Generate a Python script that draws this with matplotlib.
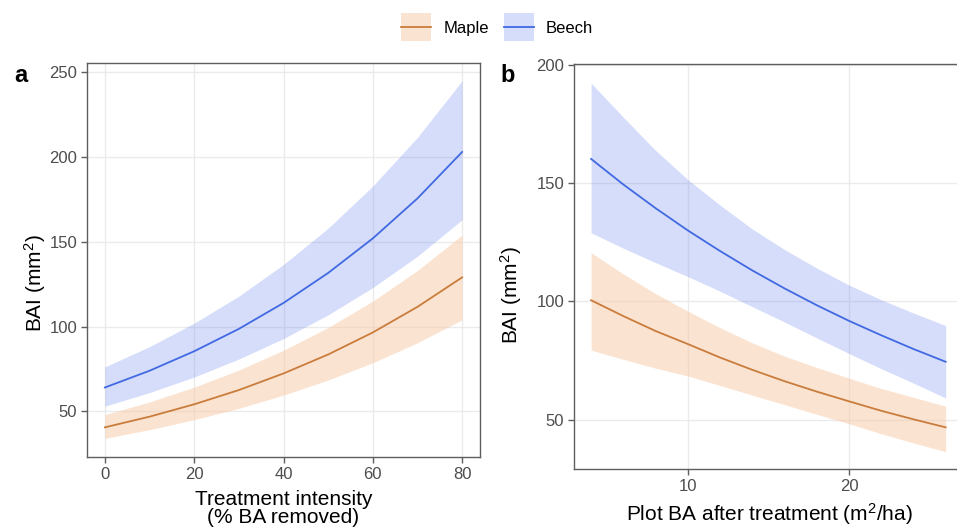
import matplotlib
matplotlib.use("Agg")
import matplotlib.pyplot as plt
from matplotlib.patches import Patch, Rectangle
from matplotlib.lines import Line2D
from matplotlib.legend_handler import HandlerBase

plt.rcParams['font.family'] = ['Liberation Sans', 'DejaVu Sans']
plt.rcParams['mathtext.fontset'] = 'custom'
plt.rcParams['mathtext.rm'] = 'Liberation Sans'
plt.rcParams['mathtext.it'] = 'Liberation Sans:italic'
plt.rcParams['mathtext.bf'] = 'Liberation Sans:bold'

# ---------------- data ----------------
species = ["Maple", "Beech"]

# Panel a: treatment intensity (% BA removed)
intensity = [0, 10, 20, 30, 40, 50, 60, 70, 80]
maple_a_mean = [40.5, 46.8, 54.1, 62.5, 72.3, 83.5, 96.5, 111.6, 129.0]
maple_a_low = [34.0, 39.1, 45.0, 51.7, 59.5, 68.4, 78.6, 90.4, 104.0]
maple_a_high = [48.0, 55.5, 64.2, 74.3, 86.0, 99.4, 115.0, 133.1, 154.0]
beech_a_mean = [64.0, 73.9, 85.4, 98.6, 113.9, 131.6, 152.0, 175.6, 203.0]
beech_a_low = [53.0, 61.0, 70.2, 80.8, 92.9, 106.9, 123.0, 141.5, 163.0]
beech_a_high = [76.2, 88.1, 102.0, 117.9, 136.6, 158.0, 182.9, 211.6, 245.0]

# Panel b: plot BA after treatment (m2/ha)
plot_ba = [4, 6, 8, 10, 12, 14, 16, 18, 20, 22, 24, 26]
maple_b_mean = [100.5, 93.8, 87.5, 82.0, 76.3, 71.1, 66.3, 61.9, 57.8, 53.8, 50.2, 46.8]
maple_b_low = [79.4, 75.5, 71.8, 68.5, 64.5, 60.4, 56.4, 52.3, 48.3, 44.1, 40.2, 36.5]
maple_b_high = [120.6, 111.6, 103.3, 95.9, 88.9, 82.5, 76.9, 72.1, 67.6, 63.2, 59.5, 55.7]
beech_b_mean = [160.2, 149.4, 139.4, 130.0, 121.3, 113.1, 105.5, 98.4, 91.8, 85.7, 79.9, 74.5]
beech_b_low = [129.0, 122.5, 116.4, 110.5, 104.3, 97.8, 91.3, 84.6, 78.0, 71.6, 65.5, 59.2]
beech_b_high = [192.2, 177.8, 163.8, 151.5, 140.7, 130.6, 121.9, 114.1, 106.9, 100.7, 95.1, 89.8]

a_xticks = [0, 20, 40, 60, 80]
a_yticks = [50, 100, 150, 200, 250]
b_xticks = [10, 20]
b_yticks = [50, 100, 150, 200]

# ---------------- style ----------------
line_col = {"Maple": "#C97C3C", "Beech": "#4169E1"}
fill_col = {"Maple": "#F9C9A4", "Beech": "#5A78F0"}
fill_alpha = {"Maple": 0.5, "Beech": 0.25}
frame_col = "#5E5E5E"
grid_col = "#EBEBEB"
tick_lab_col = "#4D4D4D"

fig = plt.figure(figsize=(9.57, 5.27), dpi=100)
ax_a = fig.add_axes([87/957, 1-457/527, 393/957, 394/527])
ax_b = fig.add_axes([574/957, 1-469/527, 391/957, 405/527])


def style(ax):
    ax.set_facecolor("white")
    for s in ax.spines.values():
        s.set_color(frame_col)
        s.set_linewidth(1.0)
    ax.grid(True, color=grid_col, linewidth=1.0)
    ax.set_axisbelow(True)
    ax.tick_params(axis="both", colors=frame_col, labelcolor=tick_lab_col,
                   labelsize=12, length=4, width=1.0, pad=3)


def draw(ax, x, series):
    for name, mean, low, high in series:
        ax.fill_between(x, low, high, color=fill_col[name], alpha=fill_alpha[name],
                        linewidth=0, zorder=2)
        ax.plot(x, mean, color=line_col[name], linewidth=1.3, zorder=3)


draw(ax_a, intensity, [("Maple", maple_a_mean, maple_a_low, maple_a_high),
                        ("Beech", beech_a_mean, beech_a_low, beech_a_high)])
draw(ax_b, plot_ba, [("Maple", maple_b_mean, maple_b_low, maple_b_high),
                      ("Beech", beech_b_mean, beech_b_low, beech_b_high)])

for ax in (ax_a, ax_b):
    style(ax)

ax_a.set_xlim(-4, 84)
ax_a.set_ylim(23.0, 255.5)
ax_a.set_xticks(a_xticks)
ax_a.set_yticks(a_yticks)

ax_b.set_xlim(2.94, 27.2)
ax_b.set_ylim(29.2, 200.3)
ax_b.set_xticks(b_xticks)
ax_b.set_yticks(b_yticks)

ax_a.set_xlabel("Treatment intensity\n(% BA removed)", fontsize=15,
                linespacing=0.95, labelpad=6)
ax_b.set_xlabel("Plot BA after treatment (m$^{2}$/ha)", fontsize=15, labelpad=5)
ax_a.set_ylabel("BAI (mm$^{2}$)", fontsize=15)
ax_b.set_ylabel("BAI (mm$^{2}$)", fontsize=15)
ax_a.yaxis.set_label_coords(-0.100, 0.44)
ax_b.yaxis.set_label_coords(-0.128, 0.43)

fig.text(14/957, 1-75/527, "a", fontsize=17, fontweight="bold", va="center", ha="left")
fig.text(500/957, 1-75/527, "b", fontsize=17, fontweight="bold", va="center", ha="left")


class KeyHandler(HandlerBase):
    """ggplot-like legend key: filled square with a line through its middle."""
    def create_artists(self, legend, orig_handle, xdescent, ydescent, width,
                       height, fontsize, trans):
        patch, line = orig_handle
        H = 20.0
        yc = -ydescent + height / 2.0
        r = Rectangle((-xdescent, yc - H / 2.0), width, H,
                      facecolor=patch.get_facecolor(), edgecolor="none",
                      transform=trans)
        ln = Line2D([-xdescent, width - xdescent], [yc, yc],
                    color=line.get_color(), linewidth=line.get_linewidth(),
                    transform=trans)
        return [r, ln]


handles = []
for name in species:
    p = Patch(facecolor=fill_col[name], alpha=fill_alpha[name], edgecolor="none")
    l = Line2D([], [], color=line_col[name], linewidth=1.3)
    handles.append((p, l))
fig.legend(handles, species, loc="center", bbox_to_anchor=(497/957, 1-27/527),
           ncol=2, frameon=False, fontsize=12, handlelength=1.8, handleheight=1.2,
           handletextpad=0.7, columnspacing=0.9,
           handler_map={tuple: KeyHandler()})

fig.savefig("out.png", dpi=100, facecolor="white")
